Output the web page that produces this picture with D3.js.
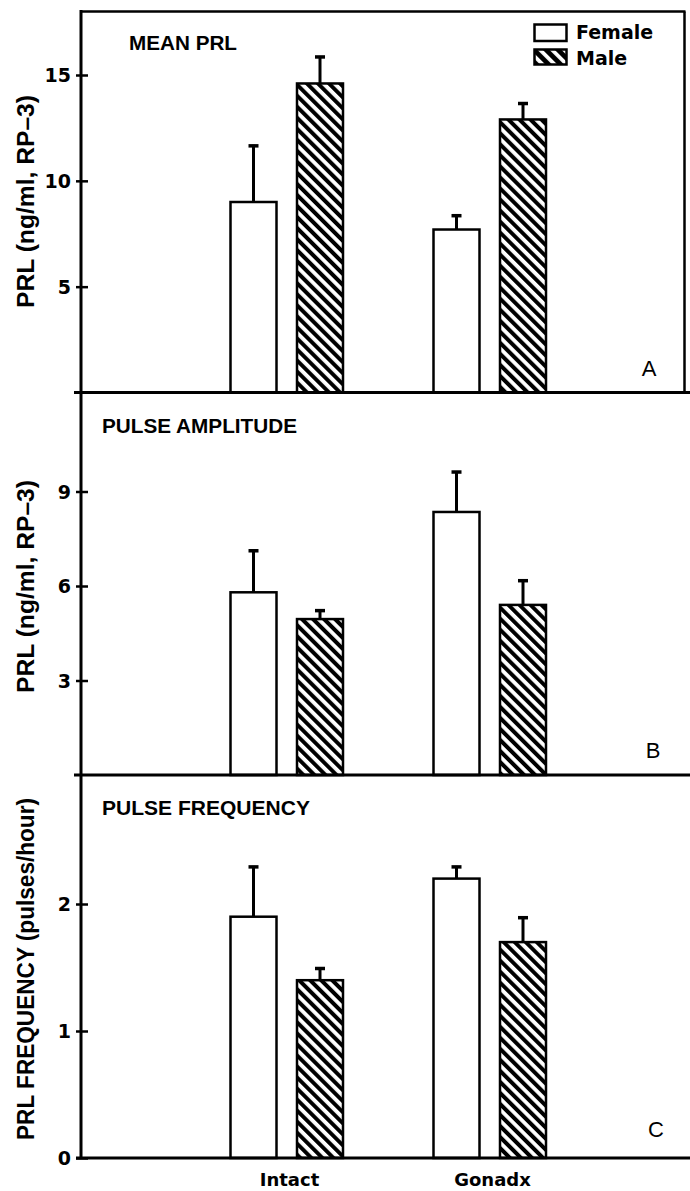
<!DOCTYPE html>
<html>
<head>
<meta charset="utf-8">
<script src="https://cdn.jsdelivr.net/npm/d3@7"></script>
<style>
  html, body { margin: 0; padding: 0; background: #fff; }
  svg { display: block; }
</style>
</head>
<body>
<svg id="chart" width="690" height="1191"></svg>
<script>
// ---------- data ----------
const groups = ["Intact", "Gonadx"];
const sexes = ["Female", "Male"];

const meanFemale = [9.0, 7.7];
const meanFemaleSem = [2.7, 0.7];
const meanMale = [14.6, 12.9];
const meanMaleSem = [1.3, 0.8];

const ampFemale = [5.8, 8.35];
const ampFemaleSem = [1.35, 1.3];
const ampMale = [4.95, 5.4];
const ampMaleSem = [0.3, 0.8];

const freqFemale = [1.9, 2.2];
const freqFemaleSem = [0.4, 0.1];
const freqMale = [1.4, 1.7];
const freqMaleSem = [0.1, 0.2];

const ticksA = [5, 10, 15];
const ticksB = [3, 6, 9];
const ticksC = [0, 1, 2];

const panels = [
  { title: "MEAN PRL", letter: "A", ylabel: "PRL (ng/ml, RP\u20133)",
    female: meanFemale, femaleSem: meanFemaleSem, male: meanMale, maleSem: meanMaleSem,
    ticks: ticksA, domain: [0, 18], range: [392.5, 11.5],
    titleX: 129, titleY: 50, titleLen: 108, letterX: 649, letterY: 376,
    labelY: 201.5, labelLen: 213 },
  { title: "PULSE AMPLITUDE", letter: "B", ylabel: "PRL (ng/ml, RP\u20133)",
    female: ampFemale, femaleSem: ampFemaleSem, male: ampMale, maleSem: ampMaleSem,
    ticks: ticksB, domain: [0, 12], range: [775, 397],
    titleX: 102, titleY: 433, titleLen: 195, letterX: 653, letterY: 758,
    labelY: 586.5, labelLen: 213 },
  { title: "PULSE FREQUENCY", letter: "C", ylabel: "PRL FREQUENCY (pulses/hour)",
    female: freqFemale, femaleSem: freqFemaleSem, male: freqMale, maleSem: freqMaleSem,
    ticks: ticksC, domain: [0, 3], range: [1158, 777],
    titleX: 102, titleY: 815, titleLen: 208, letterX: 656, letterY: 1137,
    labelY: 969, labelLen: 342 }
];

// ---------- layout ----------
const svg = d3.select("#chart");
const axisX = 81;
const x = d3.scalePoint().domain(groups).range([287.5, 490.5]);
const barW = 46;
const offset = { Female: -57, Male: 9.5 };

const defs = svg.append("defs");
function hatch(id, period, stroke) {
  const p = defs.append("pattern")
    .attr("id", id)
    .attr("patternUnits", "userSpaceOnUse")
    .attr("width", period).attr("height", period)
    .attr("patternTransform", "rotate(-45)");
  p.append("rect").attr("width", period).attr("height", period).attr("fill", "#fff");
  p.append("rect").attr("width", stroke).attr("height", period).attr("fill", "#000");
}
hatch("hatch", 7.8, 4);
hatch("hatchLegend", 8.5, 4.8);

const boldSans = "'Liberation Sans', Arial, Helvetica, sans-serif";
const roundSans = "'DejaVu Sans', Verdana, sans-serif";

panels.forEach((p, pi) => {
  const y = d3.scaleLinear().domain(p.domain).range(p.range);
  const g = svg.append("g");

  const bars = [];
  groups.forEach((grp, i) => {
    bars.push({ grp, sex: "Female", v: p.female[i], e: p.femaleSem[i] });
    bars.push({ grp, sex: "Male", v: p.male[i], e: p.maleSem[i] });
  });

  // error bars
  bars.forEach(b => {
    const cx = x(b.grp) + offset[b.sex] + barW / 2;
    g.append("line")
      .attr("x1", cx).attr("x2", cx)
      .attr("y1", y(b.v)).attr("y2", y(b.v + b.e))
      .attr("stroke", "#000").attr("stroke-width", 3);
    g.append("line")
      .attr("x1", cx - 5).attr("x2", cx + 5)
      .attr("y1", y(b.v + b.e) + 1).attr("y2", y(b.v + b.e) + 1)
      .attr("stroke", "#000").attr("stroke-width", 3.5);
  });

  g.selectAll("rect.bar").data(bars).join("rect")
    .attr("class", "bar")
    .attr("x", d => x(d.grp) + offset[d.sex])
    .attr("y", d => y(d.v))
    .attr("width", barW)
    .attr("height", d => y(0) - y(d.v))
    .attr("fill", d => d.sex === "Female" ? "#fff" : "url(#hatch)")
    .attr("stroke", "#000")
    .attr("stroke-width", 2.5);

  // baseline of this panel
  g.append("line")
    .attr("x1", pi === 2 ? 76 : 74).attr("x2", 690)
    .attr("y1", y(0)).attr("y2", y(0))
    .attr("stroke", "#000").attr("stroke-width", 3);

  // y axis ticks via d3 axis
  const ax = g.append("g")
    .attr("transform", `translate(${axisX},0)`)
    .call(d3.axisLeft(y).tickValues(p.ticks).tickSize(5).tickFormat(d3.format("d")));
  ax.select(".domain").remove();
  ax.selectAll(".tick line")
    .attr("x1", -5).attr("x2", 7)
    .attr("stroke", "#000").attr("stroke-width", 2.5);
  ax.selectAll(".tick text")
    .attr("x", -10)
    .attr("dy", "0.36em")
    .attr("fill", "#000")
    .style("font-family", roundSans)
    .style("font-weight", "bold")
    .style("font-size", "19px");

  // title
  g.append("text")
    .attr("x", p.titleX).attr("y", p.titleY)
    .attr("textLength", p.titleLen).attr("lengthAdjust", "spacingAndGlyphs")
    .style("font-family", boldSans).style("font-weight", "bold").style("font-size", "21px")
    .text(p.title);

  // panel letter
  g.append("text")
    .attr("x", p.letterX).attr("y", p.letterY)
    .attr("text-anchor", "middle")
    .style("font-family", boldSans).style("font-size", "22px")
    .text(p.letter);

  // y label
  g.append("text")
    .attr("transform", `translate(34,${p.labelY}) rotate(-90)`)
    .attr("text-anchor", "middle")
    .attr("textLength", p.labelLen).attr("lengthAdjust", "spacingAndGlyphs")
    .style("font-family", boldSans).style("font-weight", "bold").style("font-size", "23.5px")
    .text(p.ylabel);
});

// y axis line
svg.append("line")
  .attr("x1", axisX).attr("x2", axisX)
  .attr("y1", 10).attr("y2", 1158)
  .attr("stroke", "#000").attr("stroke-width", 3);

// top border and right border of panel A
svg.append("line")
  .attr("x1", axisX).attr("x2", 685.5)
  .attr("y1", 11.5).attr("y2", 11.5)
  .attr("stroke", "#000").attr("stroke-width", 2.5);
svg.append("line")
  .attr("x1", 684.5).attr("x2", 684.5)
  .attr("y1", 11.5).attr("y2", 392.5)
  .attr("stroke", "#000").attr("stroke-width", 2.5);

// x category labels
svg.selectAll("text.cat").data(groups).join("text")
  .attr("class", "cat")
  .attr("x", d => x(d) + 2)
  .attr("y", 1186)
  .attr("text-anchor", "middle")
  .style("font-family", roundSans).style("font-weight", "bold").style("font-size", "18px")
  .text(d => d);

// legend
const legend = svg.append("g");
sexes.forEach((s, i) => {
  legend.append("rect")
    .attr("x", 534.5).attr("y", i === 0 ? 24.5 : 49.5)
    .attr("width", 32).attr("height", i === 0 ? 16.5 : 15)
    .attr("fill", s === "Female" ? "#fff" : "url(#hatchLegend)")
    .attr("stroke", "#000").attr("stroke-width", 2.5);
  legend.append("text")
    .attr("x", 576).attr("y", i === 0 ? 38.5 : 64.5)
    .style("font-family", roundSans).style("font-weight", "bold").style("font-size", "19px")
    .text(s);
});
</script>
</body>
</html>
